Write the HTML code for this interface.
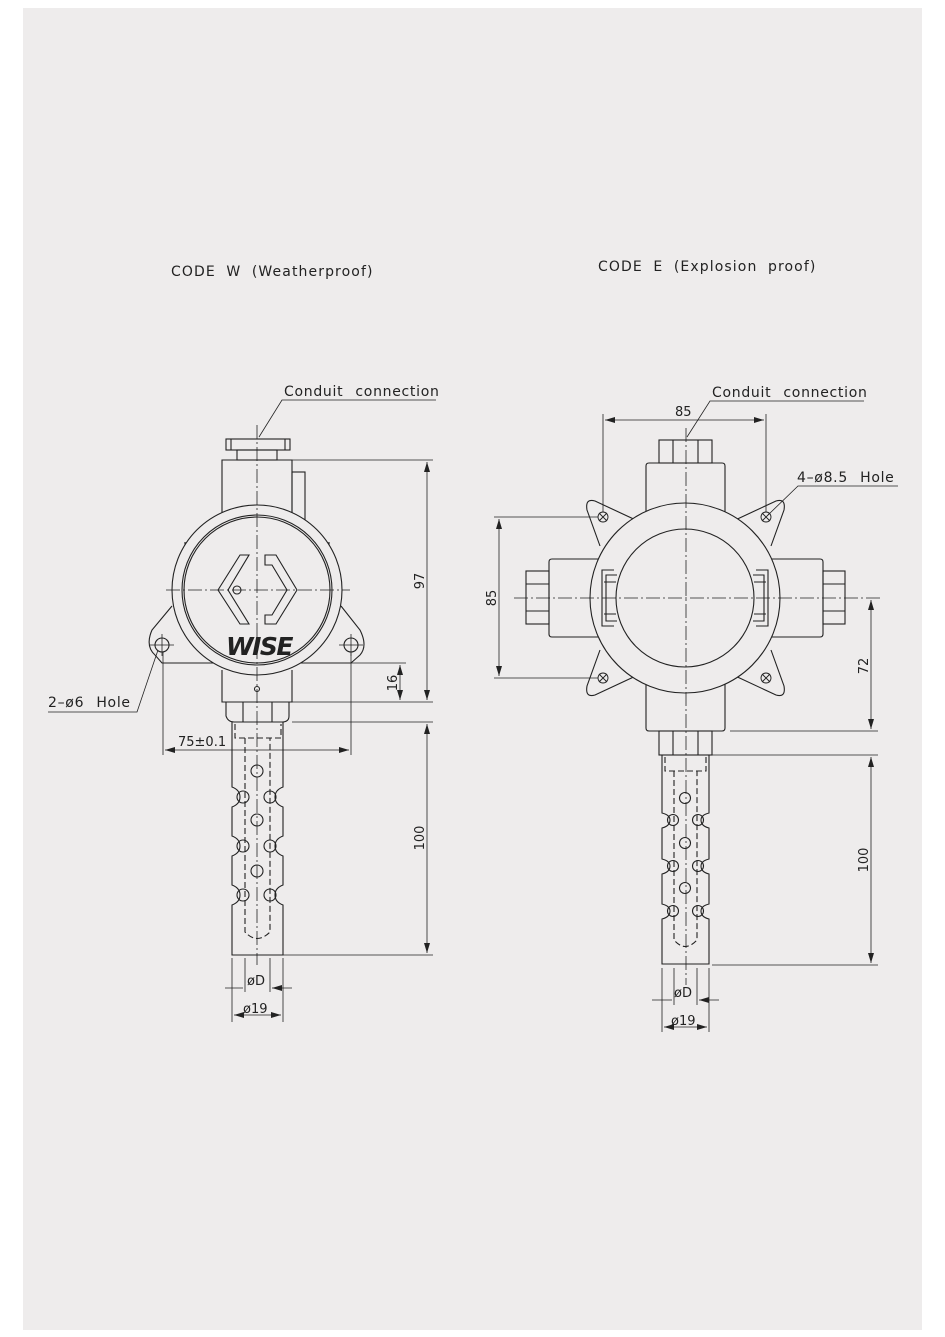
<!DOCTYPE html>
<html><head><meta charset="utf-8"><style>
html,body{margin:0;padding:0;background:#fff;}
svg{display:block;}
text{font-family:"DejaVu Sans","Liberation Sans",sans-serif;fill:#222;}
.l{letter-spacing:0.7px;word-spacing:7px;}
.h{letter-spacing:1.1px;word-spacing:5px;}
</style></head><body>
<svg width="945" height="1337" viewBox="0 0 945 1337" xmlns="http://www.w3.org/2000/svg">
<defs>
<marker id="a" viewBox="0 0 10 6" refX="10" refY="3" markerWidth="10" markerHeight="6" orient="auto-start-reverse" markerUnits="userSpaceOnUse"><path d="M0,0 L10,3 L0,6z" fill="#222"/></marker>
</defs>
<rect x="0" y="0" width="945" height="1337" fill="#fff"/>
<rect x="23" y="8" width="899" height="1322" fill="#eeecec"/>
<g stroke="#222" stroke-width="1.1" fill="none">
<text class="h" x="171" y="276" font-size="14" stroke="none">CODE W (Weatherproof)</text>
<text class="h" x="598" y="271" font-size="14" stroke="none">CODE E (Explosion proof)</text>

<!-- LEFT DEVICE -->
<rect x="226" y="439" width="64" height="11"/>
<line x1="231" y1="439" x2="231" y2="450"/><line x1="285" y1="439" x2="285" y2="450"/>
<rect x="237" y="450" width="40" height="10"/>
<path d="M222,540 V460 H292 V540"/>
<rect x="292" y="472" width="13" height="50"/>
<path d="M185,542 V560 M185,625 V635 M329,542 V560 M329,625 V635"/>
<path d="M172,606 L152,630 Q145,646 155,655 L162,663 H351 L360,655 Q368,646 360,630 L341,606"/>
<circle cx="257" cy="590" r="85" fill="#eeecec"/>
<circle cx="257" cy="590" r="75"/>
<circle cx="257" cy="590" r="73"/>
<path d="M218,590 L240,555 H249 L228,590 L249,624 H240 Z"/>
<path d="M265,555 H276 L297,590 L276,624 H265 V615 H272 L287,590 L272,565 H265Z" />
<circle cx="237" cy="590" r="4"/>
<text x="226" y="655" font-size="25" font-weight="bold" font-style="italic" stroke="none" fill="#222" letter-spacing="-1.5" font-family="Liberation Sans">WISE</text>
<circle cx="162" cy="645" r="7"/><circle cx="351" cy="645" r="7"/>
<path d="M150,645 H174 M162,634 V656 M339,645 H363 M351,634 V656" stroke-width="0.8"/>
<path d="M222,670 V702 H292 V670"/>
<circle cx="257" cy="689" r="2.5"/>
<path d="M226,702 V716 Q228,722 234,722 H282 Q289,722 289,716 V702 M243,702 V722 M272,702 V722"/>
<path d="M232,722 V787 Q240,790 240,797 Q240,804 232,807 V836 Q240,839 240,846 Q240,853 232,856 V885 Q240,888 240,895 Q240,902 232,905 V955 H283 V905 Q275,902 275,895 Q275,888 283,885 V856 Q275,853 275,846 Q275,839 283,836 V807 Q275,804 275,797 Q275,790 283,787 V722"/>
<path d="M235,724 V738 H281 V724 M245,738 V932 Q257,945 270,932 V738" stroke-dasharray="6,3"/>
<circle cx="257" cy="771" r="6"/><circle cx="257" cy="820" r="6"/><circle cx="257" cy="871" r="6"/>
<circle cx="243" cy="797" r="6"/><circle cx="243" cy="846" r="6"/><circle cx="243" cy="895" r="6"/>
<circle cx="270" cy="797" r="6"/><circle cx="270" cy="846" r="6"/><circle cx="270" cy="895" r="6"/>
<path d="M257,425 V965 M166,590 H350" stroke-width="0.8" stroke-dasharray="14,3,2,3"/>
<!-- left dims -->
<path d="M292,460 H433 M292,702 H433 M292,722 H433 M345,663 H406 M283,955 H433" stroke-width="0.8"/>
<line x1="427" y1="462" x2="427" y2="700" marker-start="url(#a)" marker-end="url(#a)" stroke-width="0.8"/>
<line x1="400" y1="665" x2="400" y2="700" marker-start="url(#a)" marker-end="url(#a)" stroke-width="0.8"/>
<line x1="427" y1="724" x2="427" y2="953" marker-start="url(#a)" marker-end="url(#a)" stroke-width="0.8"/>
<text transform="translate(424,581) rotate(-90)" x="0" y="0" font-size="13" stroke="none" text-anchor="middle">97</text>
<text transform="translate(397,683) rotate(-90)" font-size="13" stroke="none" text-anchor="middle">16</text>
<text transform="translate(424,838) rotate(-90)" font-size="13" stroke="none" text-anchor="middle">100</text>
<path d="M163,652 V755 M351,652 V755" stroke-width="0.8"/>
<line x1="165" y1="750" x2="349" y2="750" marker-start="url(#a)" marker-end="url(#a)" stroke-width="0.8"/>
<text x="178" y="746" font-size="13" stroke="none">75±0.1</text>
<path d="M232,958 V1022 M283,958 V1022 M245,958 V992 M270,958 V992" stroke-width="0.8"/>
<path d="M225,988 H243 M292,988 H272" marker-end="url(#a)" stroke-width="0.8"/>
<line x1="234" y1="1015" x2="281" y2="1015" marker-start="url(#a)" marker-end="url(#a)" stroke-width="0.8"/>
<text x="247" y="985" font-size="13" stroke="none">øD</text>
<text x="243" y="1013" font-size="13" stroke="none">ø19</text>
<path d="M436,400 H282 L259,437" stroke-width="0.8"/>
<text class="l" x="284" y="396" font-size="14" stroke="none">Conduit connection</text>
<path d="M48,712 H137 L158,650" stroke-width="0.8"/>
<text class="l" x="48" y="707" font-size="14" stroke="none">2–ø6 Hole</text>

<!-- RIGHT DEVICE -->
<rect x="659" y="440" width="53" height="23"/>
<line x1="673" y1="440" x2="673" y2="463"/><line x1="698" y1="440" x2="698" y2="463"/>
<path d="M646,520 V466 Q646,463 649,463 H722 Q725,463 725,466 V520"/>
<path d="M646,676 V728 Q646,731 649,731 H722 Q725,731 725,728 V676"/>
<rect x="659" y="731" width="53" height="24"/>
<line x1="673" y1="731" x2="673" y2="755"/><line x1="698" y1="731" x2="698" y2="755"/>
<path d="M600,559 H552 Q549,559 549,562 V634 Q549,637 552,637 H600"/>
<path d="M770,559 H820 Q823,559 823,562 V634 Q823,637 820,637 H770"/>
<rect x="526" y="571" width="23" height="53"/><line x1="526" y1="584" x2="549" y2="584"/><line x1="526" y1="611" x2="549" y2="611"/>
<rect x="823" y="571" width="22" height="53"/><line x1="823" y1="584" x2="845" y2="584"/><line x1="823" y1="611" x2="845" y2="611"/>
<path d="M640,522 L595,501 Q585,498 587,510 L600,546"/>
<path d="M731,522 L776,501 Q786,498 784,510 L771,546"/>
<path d="M640,674 L595,695 Q585,698 587,686 L600,650"/>
<path d="M731,674 L776,695 Q786,698 784,686 L771,650"/>
<circle cx="685" cy="598" r="95" fill="#eeecec"/>
<circle cx="685" cy="598" r="69"/>
<path d="M614,570 H602 V626 H614 M617,575 H606 V621 H617 M604,582 H616 M604,614 H616"/>
<path d="M756,570 H768 V626 H756 M753,575 H764 V621 H753 M754,582 H766 M754,614 H766"/>
<g stroke-width="0.9">
<circle cx="603" cy="517" r="5"/><path d="M599,513 L607,521 M607,513 L599,521"/>
<circle cx="766" cy="517" r="5"/><path d="M762,513 L770,521 M770,513 L762,521"/>
<circle cx="603" cy="678" r="5"/><path d="M599,674 L607,682 M607,674 L599,682"/>
<circle cx="766" cy="678" r="5"/><path d="M762,674 L770,682 M770,674 L762,682"/>
</g>
<path d="M662,755 V813 Q670,815 670,820 Q670,826 662,828 V859 Q670,861 670,866 Q670,872 662,874 V904 Q670,906 670,911 Q670,917 662,919 V964 H709 V919 Q701,917 701,911 Q701,906 709,904 V874 Q701,872 701,866 Q701,861 709,859 V828 Q701,826 701,820 Q701,815 709,813 V755"/>
<path d="M665,757 V771 H706 V757 M674,771 V940 Q685,953 697,940 V771" stroke-dasharray="6,3"/>
<circle cx="685" cy="798" r="5.5"/><circle cx="685" cy="843" r="5.5"/><circle cx="685" cy="888" r="5.5"/>
<circle cx="673" cy="820" r="5.5"/><circle cx="673" cy="866" r="5.5"/><circle cx="673" cy="911" r="5.5"/>
<circle cx="698" cy="820" r="5.5"/><circle cx="698" cy="866" r="5.5"/><circle cx="698" cy="911" r="5.5"/>
<path d="M686,428 V985 M514,598 H880" stroke-width="0.8" stroke-dasharray="14,3,2,3"/>
<!-- right dims -->
<path d="M603,414 V512 M766,414 V512" stroke-width="0.8"/>
<line x1="605" y1="420" x2="764" y2="420" marker-start="url(#a)" marker-end="url(#a)" stroke-width="0.8"/>
<text x="675" y="416" font-size="13" stroke="none">85</text>
<path d="M494,517 H598 M494,678 H598" stroke-width="0.8"/>
<line x1="499" y1="519" x2="499" y2="676" marker-start="url(#a)" marker-end="url(#a)" stroke-width="0.8"/>
<text transform="translate(496,598) rotate(-90)" font-size="13" stroke="none" text-anchor="middle">85</text>
<path d="M730,731 H878 M712,755 H878 M712,965 H878" stroke-width="0.8"/>
<line x1="871" y1="600" x2="871" y2="729" marker-start="url(#a)" marker-end="url(#a)" stroke-width="0.8"/>
<line x1="871" y1="757" x2="871" y2="963" marker-start="url(#a)" marker-end="url(#a)" stroke-width="0.8"/>
<text transform="translate(868,666) rotate(-90)" font-size="13" stroke="none" text-anchor="middle">72</text>
<text transform="translate(868,860) rotate(-90)" font-size="13" stroke="none" text-anchor="middle">100</text>
<path d="M662,968 V1032 M709,968 V1032 M674,968 V1005 M697,968 V1005" stroke-width="0.8"/>
<path d="M652,1000 H672 M719,1000 H699" marker-end="url(#a)" stroke-width="0.8"/>
<line x1="664" y1="1027" x2="707" y2="1027" marker-start="url(#a)" marker-end="url(#a)" stroke-width="0.8"/>
<text x="674" y="997" font-size="13" stroke="none">øD</text>
<text x="671" y="1025" font-size="13" stroke="none">ø19</text>
<path d="M864,401 H710 L687,437" stroke-width="0.8"/>
<text class="l" x="712" y="397" font-size="14" stroke="none">Conduit connection</text>
<path d="M898,486 H798 L768,515" stroke-width="0.8"/>
<text class="l" x="797" y="482" font-size="14" stroke="none">4–ø8.5 Hole</text>
</g>
</svg>
</body></html>
